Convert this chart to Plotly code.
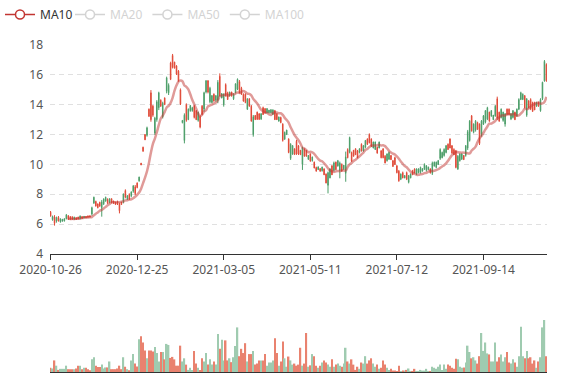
import pandas as pd
import plotly.graph_objects as go

# ---------------- data ----------------
closed = ['2021-01-01', '2021-02-11', '2021-02-12', '2021-02-15', '2021-02-16', '2021-02-17',
          '2021-05-03', '2021-05-04', '2021-05-05', '2021-09-20', '2021-09-21',
          '2021-10-01', '2021-10-04', '2021-10-05', '2021-10-06', '2021-10-07']
missing = ['2021-08-02', '2021-08-03']   # sessions absent from the source feed
all_days = [d.strftime('%Y-%m-%d') for d in pd.bdate_range('2020-10-26', '2021-11-30')]
dates = [d for d in all_days if d not in closed and d not in missing][:253]

tick_labels = ['2020-10-26', '2020-12-25', '2021-03-05', '2021-05-11', '2021-07-12', '2021-09-14']

open_ = [
    6.55, 6.52, 6.05, 6.45, 6.22, 6.35, 6.32, 6.36, 6.62, 6.32,
    6.32, 6.33, 6.46, 6.31, 6.35, 6.55, 6.38, 6.52, 6.42, 6.46,
    6.48, 7.10, 7.80, 7.22, 7.10, 7.20, 7.50, 7.68, 7.80, 7.40,
    7.70, 7.45, 7.40, 7.32, 7.36, 6.90, 7.32, 8.00, 7.80, 7.90,
    7.70, 8.15, 8.55, 8.05, 8.45, 9.15, 9.97, 10.88, 11.65, 12.45,
    13.22, 13.00, 13.30, 13.10, 14.20, 14.80, 13.90, 14.10, 14.00, 15.80,
    15.30, 15.70, 16.50, 16.45, 16.05, 15.60, 14.05, 12.95, 13.30, 12.95,
    13.70, 13.95, 13.80, 13.15, 13.00, 13.50, 12.50, 13.35, 14.80, 15.60,
    14.85, 15.10, 14.60, 14.25, 14.60, 15.50, 14.60, 14.75, 14.70, 14.60,
    14.35, 14.85, 14.60, 14.70, 15.40, 15.70, 14.80, 14.70, 14.25, 14.15,
    14.40, 13.90, 12.90, 13.20, 13.00, 13.02, 13.02, 13.40, 13.35, 13.45,
    13.74, 13.64, 13.67, 13.65, 13.00, 13.00, 13.18, 12.80, 11.60, 12.15,
    12.30, 10.80, 11.35, 11.25, 10.66, 10.70, 10.70, 10.65, 11.10, 10.55,
    10.55, 10.60, 10.22, 10.50, 9.76, 9.55, 9.84, 9.54, 9.82, 9.30,
    8.76, 9.45, 9.70, 9.30, 10.10, 9.65, 10.25, 10.10, 9.55, 9.95,
    10.50, 10.45, 11.80, 10.20, 10.55, 10.65, 10.45, 11.05, 10.90, 11.25,
    11.60, 11.35, 11.45, 11.20, 11.50, 11.50, 10.75, 11.50, 10.45, 10.45,
    10.10, 10.70, 10.80, 10.32, 9.86, 10.00, 9.45, 8.90, 9.35, 9.10,
    9.25, 9.00, 9.25, 9.35, 9.30, 9.42, 9.70, 9.70, 9.80, 9.72,
    10.00, 9.90, 9.82, 9.42, 10.10, 10.15, 10.15, 10.25, 11.00, 10.80,
    11.00, 11.25, 11.00, 11.10, 10.75, 10.65, 9.80, 10.55, 10.70, 10.70,
    10.32, 11.25, 12.20, 12.90, 12.25, 12.70, 12.90, 12.35, 11.40, 12.90,
    13.25, 13.60, 13.80, 12.90, 13.60, 13.30, 13.90, 13.10, 12.90, 13.70,
    13.50, 13.40, 13.35, 13.35, 13.40, 13.60, 13.00, 13.70, 14.35, 14.80,
    14.70, 13.80, 14.40, 13.80, 13.70, 13.55, 13.65, 14.15, 13.90, 14.35,
    15.50, 16.90, 15.60]

close = [
    6.80, 6.30, 6.48, 6.20, 6.45, 6.15, 6.20, 6.22, 6.36, 6.55,
    6.50, 6.46, 6.32, 6.42, 6.46, 6.36, 6.50, 6.42, 6.51, 6.55,
    6.56, 6.68, 7.42, 7.52, 7.35, 7.46, 7.10, 7.36, 7.55, 7.66,
    7.45, 7.70, 7.55, 7.46, 7.50, 7.36, 7.47, 7.50, 8.25, 7.70,
    8.00, 7.90, 8.20, 8.50, 8.75, 8.90, 10.08, 11.15, 12.00, 11.95,
    13.70, 14.80, 13.90, 12.10, 13.00, 13.80, 14.30, 13.20, 14.45, 14.90,
    14.80, 16.80, 17.30, 16.85, 16.60, 16.25, 15.00, 12.80, 11.60, 14.00,
    13.00, 13.60, 13.60, 13.90, 13.60, 12.95, 13.20, 13.90, 13.70, 14.85,
    15.60, 14.20, 14.15, 14.70, 14.30, 14.30, 15.90, 14.45, 14.00, 15.35,
    14.80, 14.60, 14.85, 14.40, 14.80, 15.05, 15.55, 15.10, 14.70, 14.70,
    13.70, 14.40, 13.90, 12.00, 13.28, 13.50, 13.40, 13.05, 13.80, 13.74,
    13.46, 13.46, 13.46, 13.35, 13.60, 13.40, 12.90, 13.15, 12.70, 11.70,
    12.00, 11.70, 10.40, 10.70, 11.05, 11.55, 11.25, 10.95, 10.00, 11.00,
    10.90, 10.35, 10.70, 10.25, 10.15, 9.80, 9.65, 9.72, 9.58, 9.70,
    9.35, 8.60, 9.10, 9.90, 9.60, 10.15, 9.90, 9.60, 10.00, 9.70,
    9.40, 11.00, 10.80, 10.80, 10.95, 11.05, 10.90, 10.80, 11.35, 10.90,
    11.15, 11.70, 12.00, 11.70, 11.10, 11.00, 11.15, 11.10, 10.90, 11.05,
    10.55, 10.25, 10.35, 10.60, 10.25, 10.45, 9.90, 9.55, 9.00, 9.45,
    9.10, 9.45, 8.80, 9.10, 9.60, 9.70, 9.35, 9.45, 9.45, 9.55,
    9.70, 9.60, 9.65, 9.70, 9.40, 9.90, 9.80, 10.00, 10.40, 10.45,
    10.60, 10.80, 11.35, 11.70, 11.25, 11.00, 10.90, 9.70, 10.25, 10.35,
    10.60, 10.60, 11.10, 11.60, 13.25, 12.15, 12.30, 12.80, 12.70, 12.00,
    12.70, 12.85, 13.05, 13.50, 13.25, 13.00, 13.25, 14.40, 13.50, 13.15,
    12.95, 12.70, 13.70, 13.70, 13.05, 13.15, 13.50, 13.25, 13.70, 14.35,
    14.35, 14.60, 13.30, 14.25, 14.35, 14.15, 14.15, 13.90, 14.15, 13.60,
    14.40, 15.60, 16.70]

low = [
    6.50, 6.23, 5.90, 6.10, 6.17, 6.10, 6.17, 6.17, 6.32, 6.28,
    6.28, 6.28, 6.28, 6.28, 6.32, 6.32, 6.36, 6.40, 6.40, 6.42,
    6.44, 6.57, 7.35, 7.17, 7.06, 7.17, 6.50, 7.28, 7.50, 7.35,
    7.39, 7.39, 7.35, 7.28, 7.28, 6.72, 7.28, 7.39, 7.73, 7.62,
    7.62, 7.80, 8.10, 7.95, 8.40, 8.84, 9.95, 10.86, 11.63, 11.86,
    13.19, 12.86, 13.19, 11.97, 12.86, 13.64, 13.86, 13.08, 13.98, 14.76,
    14.65, 15.65, 16.43, 16.43, 15.99, 15.54, 13.98, 12.75, 11.41, 12.86,
    12.97, 13.53, 13.53, 13.08, 12.97, 12.86, 12.42, 13.30, 13.53, 14.76,
    14.76, 14.09, 14.09, 14.20, 14.20, 14.10, 14.54, 14.43, 13.87, 14.54,
    14.32, 14.54, 14.54, 14.32, 14.76, 14.98, 14.76, 14.65, 14.20, 14.10,
    13.65, 13.87, 12.87, 11.86, 12.98, 12.98, 12.98, 12.98, 13.31, 13.42,
    13.42, 13.42, 13.42, 13.31, 12.98, 12.98, 12.87, 12.76, 11.53, 11.64,
    11.98, 10.75, 10.30, 10.64, 10.64, 10.64, 10.63, 10.63, 9.63, 10.52,
    10.52, 10.30, 10.19, 10.19, 9.74, 9.52, 9.63, 9.52, 9.52, 9.29,
    8.73, 8.06, 9.07, 9.29, 9.52, 9.63, 9.85, 9.07, 9.52, 9.63,
    8.84, 10.41, 10.74, 10.19, 10.52, 10.63, 10.41, 10.74, 10.86, 10.86,
    11.08, 11.30, 11.41, 11.19, 11.08, 10.97, 10.74, 11.08, 10.41, 10.41,
    10.07, 10.19, 10.30, 10.30, 9.85, 9.96, 9.40, 8.84, 8.95, 9.07,
    9.07, 8.95, 8.73, 9.07, 9.29, 9.40, 9.29, 9.40, 9.40, 9.52,
    9.63, 9.52, 9.63, 9.40, 9.29, 9.85, 9.74, 9.96, 10.30, 10.41,
    10.52, 10.74, 10.97, 11.08, 10.74, 10.63, 9.74, 9.63, 10.19, 10.30,
    10.30, 10.52, 10.97, 11.53, 12.20, 12.08, 12.20, 12.31, 11.30, 11.86,
    12.64, 12.75, 12.97, 12.86, 13.19, 12.97, 13.19, 12.97, 12.86, 13.08,
    12.86, 12.53, 13.31, 13.31, 12.97, 13.08, 12.97, 13.19, 13.64, 14.31,
    14.31, 13.75, 13.19, 13.75, 13.64, 13.53, 13.64, 13.86, 13.86, 13.53,
    14.31, 15.54, 15.54]

high = [
    6.88, 6.57, 6.60, 6.50, 6.54, 6.39, 6.35, 6.39, 6.68, 6.61,
    6.54, 6.54, 6.50, 6.46, 6.50, 6.57, 6.54, 6.54, 6.54, 6.57,
    6.57, 7.17, 7.84, 7.57, 7.39, 7.50, 7.62, 7.73, 7.84, 7.73,
    7.73, 7.73, 7.57, 7.50, 7.57, 7.44, 7.50, 8.06, 8.33, 7.95,
    8.06, 8.20, 8.62, 8.62, 8.80, 9.18, 10.10, 11.19, 12.03, 12.53,
    13.75, 14.98, 13.98, 13.19, 14.31, 14.87, 14.36, 14.20, 14.49, 15.88,
    15.43, 16.88, 17.40, 16.88, 16.65, 16.32, 15.09, 12.97, 13.42, 14.09,
    13.75, 13.98, 13.86, 13.98, 13.64, 13.53, 13.30, 13.98, 14.87, 15.65,
    15.65, 15.20, 14.65, 14.76, 14.65, 15.65, 16.10, 14.76, 14.76, 15.43,
    14.87, 14.87, 14.87, 14.76, 15.43, 15.76, 15.65, 15.20, 14.76, 14.76,
    14.43, 14.43, 13.98, 13.31, 13.31, 13.54, 13.42, 13.42, 13.87, 13.76,
    13.76, 13.65, 13.69, 13.69, 13.65, 13.42, 13.20, 13.20, 12.76, 12.20,
    12.32, 11.75, 11.42, 11.30, 11.08, 11.64, 11.30, 10.97, 11.19, 11.08,
    10.97, 10.63, 10.74, 10.52, 10.19, 9.85, 9.85, 9.74, 9.85, 9.74,
    9.40, 9.52, 9.74, 9.96, 10.19, 10.19, 10.30, 10.19, 10.07, 9.96,
    10.86, 11.08, 11.86, 10.86, 10.97, 11.08, 10.97, 11.08, 11.41, 11.30,
    11.64, 11.75, 12.08, 11.75, 11.53, 11.53, 11.19, 11.53, 10.97, 11.08,
    10.63, 10.74, 10.86, 10.63, 10.30, 10.52, 9.96, 9.63, 9.40, 9.52,
    9.29, 9.52, 9.29, 9.40, 9.63, 9.74, 9.74, 9.74, 9.85, 9.74,
    10.07, 9.96, 9.85, 9.74, 10.19, 10.19, 10.19, 10.30, 11.08, 10.86,
    11.08, 11.30, 11.41, 11.75, 11.30, 11.08, 10.97, 10.63, 10.74, 10.74,
    10.63, 11.30, 12.31, 12.97, 13.31, 12.75, 12.97, 12.86, 12.75, 12.97,
    13.31, 13.64, 13.86, 13.53, 13.64, 13.31, 13.98, 14.54, 13.53, 13.75,
    13.53, 13.42, 13.75, 13.75, 13.42, 13.64, 13.53, 13.75, 14.43, 14.87,
    14.76, 14.65, 14.43, 14.31, 14.43, 14.20, 14.20, 14.20, 14.20, 14.43,
    15.54, 16.99, 16.77]

# volume, 10k shares
volume = [
    12, 10, 33, 18, 6, 9, 9, 9, 18, 8,
    8, 8, 8, 10, 18, 18, 8, 12, 12, 8,
    5, 36, 42, 18, 14, 14, 21, 10, 13, 13,
    30, 8, 8, 8, 10, 18, 8, 42, 15, 8,
    5, 33, 51, 24, 16, 93, 102, 84, 61, 39,
    61, 61, 58, 71, 54, 30, 57, 57, 36, 80,
    77, 40, 43, 36, 18, 18, 75, 30, 39, 21,
    6, 12, 6, 60, 24, 12, 6, 39, 30, 54,
    21, 36, 21, 30, 21, 108, 66, 92, 33, 90,
    33, 39, 28, 42, 74, 127, 45, 66, 54, 82,
    30, 51, 51, 60, 21, 24, 33, 33, 33, 51,
    18, 27, 27, 33, 96, 54, 18, 30, 87, 39,
    15, 44, 33, 21, 24, 18, 21, 69, 18, 24,
    111, 15, 19, 51, 45, 18, 12, 18, 27, 33,
    27, 21, 15, 36, 15, 21, 24, 18, 15, 24,
    69, 30, 24, 36, 21, 6, 15, 9, 27, 24,
    45, 24, 33, 39, 24, 15, 21, 9, 12, 33,
    21, 12, 6, 9, 4, 4, 3, 18, 3, 4,
    4, 6, 10, 3, 3, 9, 3, 3, 6, 4,
    4, 9, 3, 3, 15, 12, 9, 15, 21, 6,
    21, 9, 21, 18, 12, 9, 38, 36, 15, 12,
    13, 27, 75, 57, 39, 42, 33, 24, 45, 111,
    60, 84, 53, 50, 30, 30, 84, 30, 42, 50,
    30, 42, 57, 27, 24, 36, 27, 15, 45, 129,
    45, 39, 60, 39, 42, 24, 33, 12, 30, 42,
    127, 148, 45]

ma_windows = [10, 20, 50, 100]


def moving_average(values, window):
    out = []
    for i in range(len(values)):
        if i < window - 1:
            out.append(None)
        else:
            out.append(round(sum(values[i - window + 1:i + 1]) / window, 3))
    return out


# ---------------- styling ----------------
UP = '#e04a38'
DOWN = '#4c9e69'
VOL_UP = '#e9826f'
VOL_DOWN = '#9fcbb0'
MA10_COLOR = '#c23531'
FONT = 'Noto Sans, Open Sans, sans-serif'

vol_colors = [VOL_UP if c >= o else VOL_DOWN for o, c in zip(open_, close)]

fig = go.Figure()

fig.add_trace(go.Candlestick(
    x=dates, open=open_, high=high, low=low, close=close,
    increasing=dict(line=dict(color=UP, width=1), fillcolor=UP),
    decreasing=dict(line=dict(color=DOWN, width=1), fillcolor=DOWN),
    whiskerwidth=0, showlegend=False, name='K',
    xaxis='x', yaxis='y'))

fig.add_trace(go.Scatter(
    x=dates, y=moving_average(close, 10), mode='lines', name='MA10',
    line=dict(color='rgba(194,53,49,0.5)', width=2.5, shape='spline', smoothing=1),
    showlegend=False, hoverinfo='skip', xaxis='x', yaxis='y'))

# legend entry for MA10 (line with hollow circle)
fig.add_trace(go.Scatter(
    x=[None], y=[None], mode='lines+markers', name='MA10',
    line=dict(color=MA10_COLOR, width=1.5),
    marker=dict(symbol='circle', size=9, color='white', line=dict(color=MA10_COLOR, width=1.5)),
    legend='legend', xaxis='x', yaxis='y'))

for w in ma_windows[1:]:
    fig.add_trace(go.Scatter(
        x=dates, y=moving_average(close, w), mode='lines+markers', name='MA%d' % w,
        visible='legendonly',
        line=dict(color='#a8a8a8', width=1.5, shape='spline'),
        marker=dict(symbol='circle', size=9, color='white', line=dict(color='#a8a8a8', width=1.5)),
        legend='legend2', xaxis='x', yaxis='y'))

fig.add_trace(go.Bar(
    x=dates, y=volume, marker=dict(color=vol_colors, line=dict(width=0)),
    showlegend=False, name='Volume', xaxis='x2', yaxis='y2'))

fig.update_layout(
    width=577, height=380,
    margin=dict(l=50, r=30, t=45, b=8, autoexpand=False),
    paper_bgcolor='white', plot_bgcolor='white',
    font=dict(family=FONT, size=12, color='#555'),
    boxgap=0.6, bargap=0.25,
    showlegend=True,
    legend=dict(orientation='h', xref='container', yref='container',
                x=0.0, y=1.0, xanchor='left', yanchor='top',
                font=dict(family=FONT, size=12, color='#333'),
                bgcolor='rgba(0,0,0,0)', itemclick=False, itemdoubleclick=False),
    legend2=dict(orientation='h', xref='container', yref='container',
                 x=70 / 577, y=1.0, xanchor='left', yanchor='top',
                 font=dict(family=FONT, size=12, color='#a8a8a8'),
                 bgcolor='rgba(0,0,0,0)', itemclick=False, itemdoubleclick=False),
    xaxis=dict(type='category', domain=[0, 1], anchor='y', automargin=False,
               range=[-0.3, len(dates) - 1 + 0.3],
               tickmode='array', tickvals=tick_labels, ticktext=tick_labels,
               ticks='outside', ticklen=5, tickcolor='#333',
               showline=True, linecolor='#333', linewidth=1,
               showgrid=False, zeroline=False,
               rangeslider=dict(visible=False),
               tickfont=dict(family=FONT, size=12, color='#555')),
    yaxis=dict(domain=[0.3609, 1], range=[4, 18], tick0=4, dtick=2, automargin=False,
               showgrid=True, gridcolor='#e0e0e0', griddash='5px,4px', gridwidth=1,
               zeroline=False, showline=False, ticks='',
               ticklabelstandoff=6,
               tickfont=dict(family=FONT, size=12, color='#555')),
    xaxis2=dict(type='category', matches='x', anchor='y2', domain=[0, 1], automargin=False,
                showticklabels=False, ticks='', showline=True, linecolor='#333',
                linewidth=1, showgrid=False, zeroline=False,
                rangeslider=dict(visible=False)),
    yaxis2=dict(domain=[0, 0.2202], range=[0, 205], visible=False, automargin=False),
)

fig.write_html('out.html', config={'displayModeBar': False},
               post_script="document.body.style.margin='0px';")
